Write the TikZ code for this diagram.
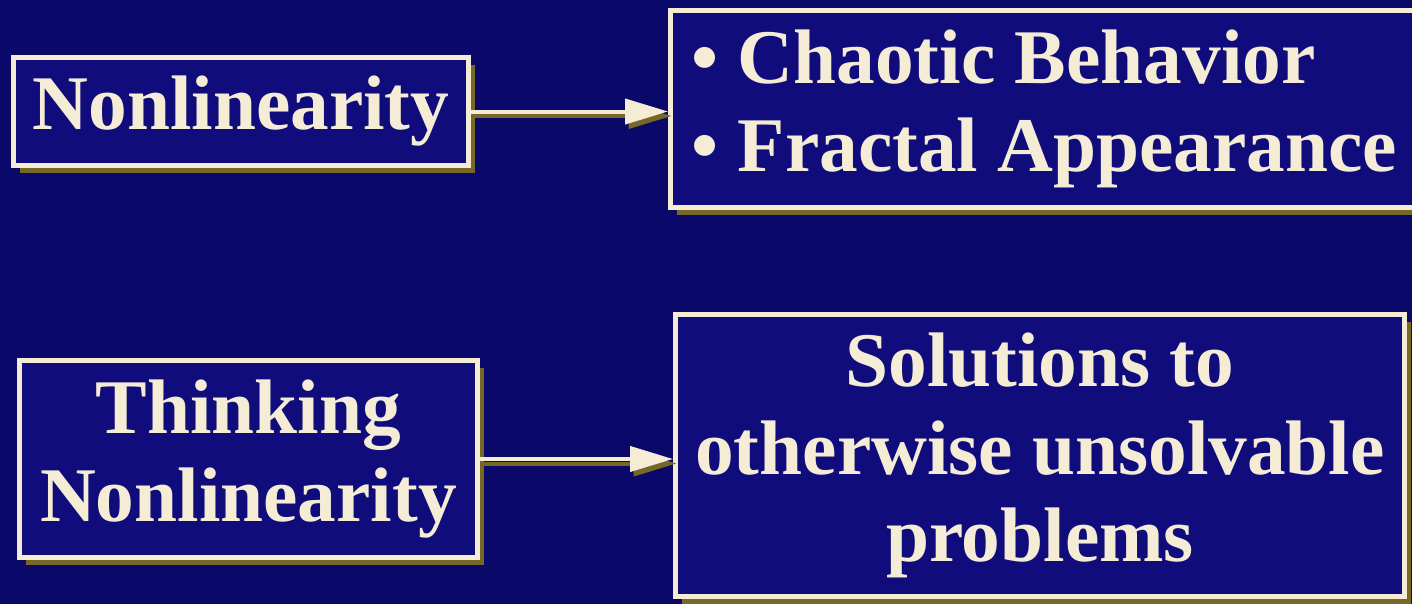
\documentclass[tikz,border=0pt]{standalone}
\usepackage{fontspec}
\setmainfont{Liberation Serif}
\usepackage{tikz}
\usetikzlibrary{arrows.meta}
\usetikzlibrary{shadows}
\usetikzlibrary{positioning}
\definecolor{slideblue}{RGB}{10,8,104}
\definecolor{boxblue}{RGB}{16,12,124}
\definecolor{chalk}{RGB}{245,236,214}
\definecolor{olive}{RGB}{120,104,40}
\tikzset{panel/.style={rectangle,draw=chalk,line width=0.1cm,fill=boxblue,text=chalk,align=center,inner sep=0pt,
	font=\fontsize{44}{50}\selectfont\bfseries,
	drop shadow={shadow xshift=0.13cm,shadow yshift=-0.14cm,fill=olive,opacity=1}}}
\tikzset{link/.style={draw=chalk,line width=0.08cm,-{Triangle[length=0.86cm,width=0.5cm]}}}
\tikzset{linkshadow/.style={draw=olive,line width=0.08cm,-{Triangle[length=0.86cm,width=0.5cm]},transform canvas={shift={(0.07cm,-0.09cm)}}}}

\begin{document}
\begin{tikzpicture}

\fill[slideblue] (0,0) rectangle (28.24,12.08);
\useasboundingbox (0,0) rectangle (28.24,12.08);
\clip (0,0) rectangle (28.24,12.08);

\node (nonlin) at (4.82,9.85) [panel,minimum width=9.1cm,minimum height=2.16cm] {Nonlinearity};
\node (chaos) at (20.885,9.9) [panel,minimum width=14.95cm,minimum height=3.94cm,align=left] {\textbullet\ Chaotic Behavior\\\textbullet\ Fractal Appearance};
\node (thinking) at (4.97,2.9) [panel,minimum width=9.16cm,minimum height=3.94cm] {Thinking\\Nonlinearity};
\node (solve) at (20.8,2.97) [panel,minimum width=14.58cm,minimum height=5.64cm] {Solutions to\\otherwise unsolvable\\problems};

\foreach \a / \b in {nonlin/chaos,thinking/solve} {
	\draw[linkshadow] (\a.east) -- (\a.east -| \b.west);
	\draw[link] (\a.east) -- (\a.east -| \b.west);
}

\end{tikzpicture}
\end{document}
